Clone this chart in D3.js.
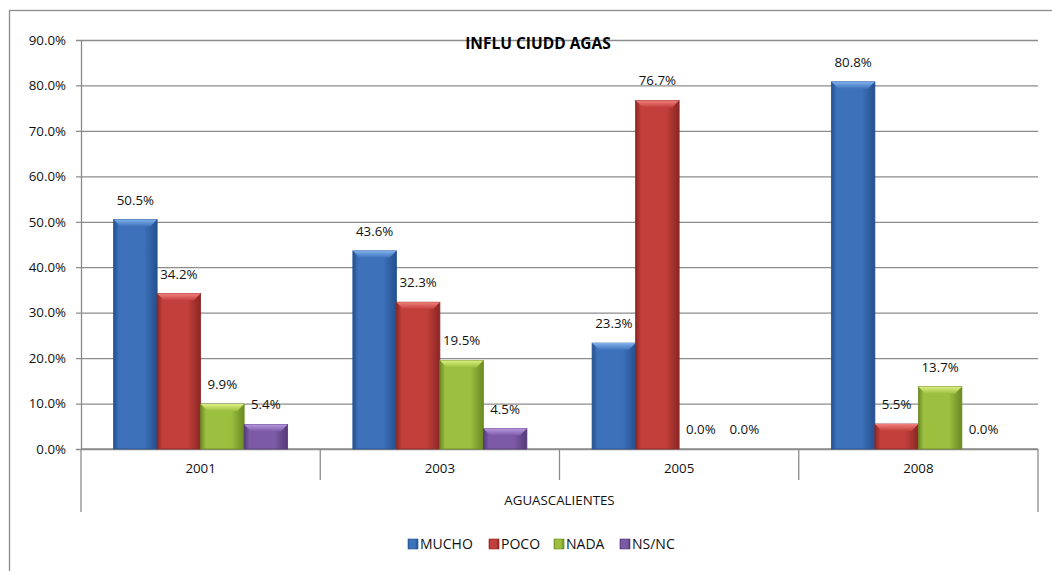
<!DOCTYPE html>
<html>
<head>
<meta charset="utf-8">
<script src="https://cdn.jsdelivr.net/npm/d3@7"></script>
<style>
  body { margin: 0; background: #fff; }
  svg { font-family: "Open Sans", "Noto Sans", sans-serif; }
</style>
</head>
<body>
<svg width="1052" height="571"></svg>
<script>
// chart data
let years = ["2001", "2003", "2005", "2008"];
let seriesNames = ["MUCHO", "POCO", "NADA", "NS/NC"];
let mucho = [50.5, 43.6, 23.3, 80.8];
let poco = [34.2, 32.3, 76.7, 5.5];
let nada = [9.9, 19.5, 0.0, 13.7];
let nsnc = [5.4, 4.5, 0.0, 0.0];
let yTicks = [0, 10, 20, 30, 40, 50, 60, 70, 80, 90];
let title = "INFLU CIUDD AGAS";
let groupLabel = "AGUASCALIENTES";

let seriesValues = [mucho, poco, nada, nsnc];
// colours: main, light (bevel), dark (edge)
let palette = [
  { main: "#3d71ba", light: "#7fb0ec", dark: "#24508e" },
  { main: "#c23f3b", light: "#f2807b", dark: "#8a2624" },
  { main: "#9cbf3f", light: "#dcf080", dark: "#6a8a24" },
  { main: "#7d5aa6", light: "#b898e0", dark: "#533a78" }
];

let plotLeft = 81, plotRight = 1038, plotTop = 40, plotBottom = 449;
let fs = "13.3px";
let svg = d3.select("svg");

let y = d3.scaleLinear().domain([0, 90]).range([plotBottom, plotTop]);
let x0 = d3.scaleBand().domain(years).range([plotLeft, plotRight]).padding(0);
let x1 = d3.scaleBand().domain(seriesNames).range([0, x0.bandwidth()])
           .paddingInner(0).paddingOuter(0.75);

// gradients
let defs = svg.append("defs");
palette.forEach((c, i) => {
  let g = defs.append("linearGradient").attr("id", "bar" + i)
    .attr("x1", "0").attr("x2", "1").attr("y1", "0").attr("y2", "0");
  g.append("stop").attr("offset", "0").attr("stop-color", c.dark);
  g.append("stop").attr("offset", "0.12").attr("stop-color", c.main);
  g.append("stop").attr("offset", "0.7").attr("stop-color", c.main);
  g.append("stop").attr("offset", "1").attr("stop-color", c.dark);
  let t = defs.append("linearGradient").attr("id", "top" + i)
    .attr("x1", "0").attr("x2", "0").attr("y1", "0").attr("y2", "1");
  t.append("stop").attr("offset", "0").attr("stop-color", c.light);
  t.append("stop").attr("offset", "1").attr("stop-color", c.main);
});

// outer chart border
svg.append("rect")
  .attr("x", 9.5).attr("y", 10.5)
  .attr("width", 1100).attr("height", 600)
  .attr("fill", "none").attr("stroke", "#8c8c8c").attr("stroke-width", 1.3);

// y axis with gridlines
let yAxis = d3.axisLeft(y)
  .tickValues(yTicks)
  .tickSize(-(plotRight - plotLeft))
  .tickSizeOuter(0)
  .tickFormat(d => d.toFixed(1) + "%");

let yg = svg.append("g")
  .attr("transform", "translate(" + plotLeft + ",0)")
  .call(yAxis);
yg.select(".domain").attr("stroke", "#8c8c8c").attr("stroke-width", 1.3);
yg.selectAll(".tick line").attr("stroke", "#8c8c8c").attr("stroke-width", 1.3)
  .attr("x1", -5);
yg.selectAll(".tick text")
  .attr("x", -15)
  .attr("fill", "#111")
  .style("font-size", fs)
  .style("font-family", "'Open Sans', sans-serif");

// category axis
let xg = svg.append("g");
xg.append("line")
  .attr("x1", plotLeft).attr("x2", plotRight)
  .attr("y1", plotBottom).attr("y2", plotBottom)
  .attr("stroke", "#8c8c8c").attr("stroke-width", 1.3);
let bounds = years.map(d => x0(d)).concat([plotRight]);
xg.selectAll("line.sep")
  .data(bounds)
  .enter()
  .append("line")
    .attr("class", "sep")
    .attr("x1", d => d).attr("x2", d => d)
    .attr("y1", plotBottom)
    .attr("y2", (d, i) => (i === 0 || i === bounds.length - 1) ? 512 : 480)
    .attr("stroke", "#8c8c8c").attr("stroke-width", 1.3);
xg.selectAll("text.cat")
  .data(years)
  .enter()
  .append("text")
    .attr("class", "cat")
    .attr("x", d => x0(d) + x0.bandwidth() / 2)
    .attr("y", 473)
    .attr("text-anchor", "middle")
    .style("font-size", fs)
    .attr("fill", "#111")
    .text(d => d);
xg.append("text")
  .attr("x", (plotLeft + plotRight) / 2)
  .attr("y", 505)
  .attr("text-anchor", "middle")
  .style("font-size", fs)
  .attr("fill", "#111")
  .text(groupLabel);

// bars
let bars = [];
years.forEach((yr, gi) => {
  seriesNames.forEach((s, si) => {
    bars.push({ year: yr, series: s, si: si, value: seriesValues[si][gi] });
  });
});

let bevel = 7;
let barG = svg.append("g")
  .selectAll("g")
  .data(bars)
  .enter()
  .append("g");

barG.filter(d => d.value > 0)
  .append("rect")
    .attr("x", d => x0(d.year) + x1(d.series))
    .attr("y", d => y(d.value))
    .attr("width", x1.bandwidth())
    .attr("height", d => plotBottom - y(d.value))
    .attr("fill", d => "url(#bar" + d.si + ")")
    .attr("stroke", d => palette[d.si].dark)
    .attr("stroke-width", 0.8);

barG.filter(d => d.value > 0)
  .append("path")
    .attr("d", d => {
      let bx = x0(d.year) + x1(d.series), by = y(d.value), w = x1.bandwidth();
      let b = Math.min(bevel, (plotBottom - by) / 2);
      return "M" + bx + "," + by + "L" + (bx + w) + "," + by +
             "L" + (bx + w - b) + "," + (by + b) + "L" + (bx + b) + "," + (by + b) + "Z";
    })
    .attr("fill", d => "url(#top" + d.si + ")")
    .attr("stroke", "none");

// data labels
barG.append("text")
  .attr("x", d => x0(d.year) + x1(d.series) + x1.bandwidth() / 2)
  .attr("y", d => y(d.value) - 15)
  .attr("text-anchor", "middle")
  .style("font-size", fs)
  .attr("fill", "#111")
  .text(d => d.value.toFixed(1) + "%");

// title
svg.append("text")
  .attr("x", 538)
  .attr("y", 49)
  .attr("text-anchor", "middle")
  .style("font-size", "15.5px")
  .style("font-weight", "bold")
  .attr("fill", "#000")
  .text(title);

// legend
let legendX = [408, 489, 554, 620];
let legend = svg.append("g")
  .selectAll("g")
  .data(seriesNames)
  .enter()
  .append("g")
    .attr("transform", (d, i) => "translate(" + legendX[i] + ",539)");
legend.append("rect")
  .attr("width", 10).attr("height", 10)
  .attr("fill", (d, i) => "url(#bar" + i + ")")
  .attr("stroke", (d, i) => palette[i].dark)
  .attr("stroke-width", 0.6);
legend.append("text")
  .attr("x", 12)
  .attr("y", 10)
  .style("font-size", "14px")
  .attr("fill", "#111")
  .text(d => d);
</script>
</body>
</html>
